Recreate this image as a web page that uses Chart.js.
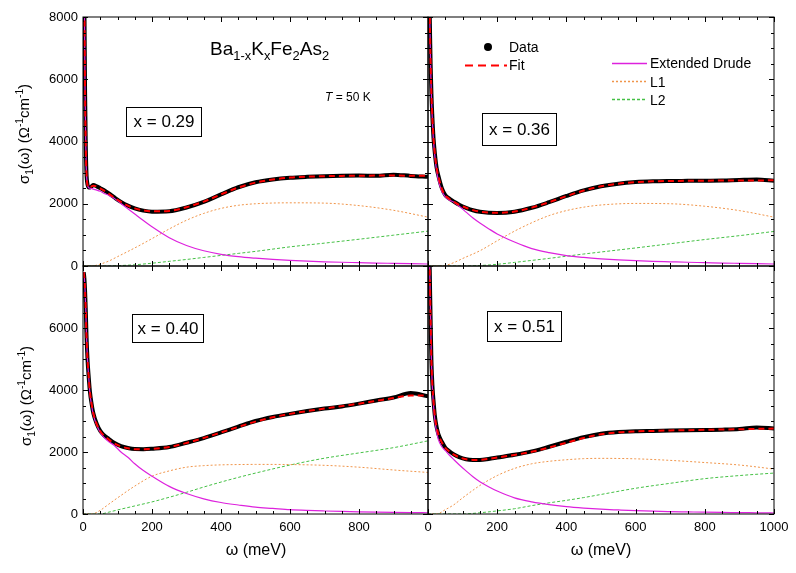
<!DOCTYPE html>
<html lang="en">
<head>
<meta charset="UTF-8">
<title>Ba1-xKxFe2As2 optical conductivity</title>
<script src="https://cdn.jsdelivr.net/npm/chart.js"></script>
<style>
  body { margin: 0; background: #fff; }
  #stage { position: relative; width: 796px; height: 573px; background: #fff; font-family: Arial, "Liberation Sans", sans-serif; color: #000; }
  #stage canvas { position: absolute; left: 0; top: 0; }
  .t { position: absolute; white-space: nowrap; line-height: 1; }
  .t sub, .t sup { font-size: 68%; line-height: 0; }
  .box { position: absolute; border: 1px solid #000; display: flex; align-items: center; justify-content: center; font-size: 17px; box-sizing: border-box; }
  .ytitle { position: absolute; white-space: nowrap; font-size: 15px; line-height: 1; transform: translate(-50%, -50%) rotate(-90deg); }
  .ytitle sub, .ytitle sup { font-size: 68%; line-height: 0; }
  .xtitle { position: absolute; white-space: nowrap; font-size: 16px; line-height: 1; transform: translate(-50%, -50%); }
  svg.leg { position: absolute; left: 0; top: 0; }
</style>
</head>
<body>
<div id="stage">
  <canvas id="pA" width="796" height="573"></canvas>
  <canvas id="pB" width="796" height="573"></canvas>
  <canvas id="pC" width="796" height="573"></canvas>
  <canvas id="pD" width="796" height="573"></canvas>

  <div class="t" style="left:210px;top:39px;font-size:19px;">Ba<sub>1-x</sub>K<sub>x</sub>Fe<sub>2</sub>As<sub>2</sub></div>
  <div class="t" style="left:325px;top:91px;font-size:12px;"><i>T</i> = 50 K</div>

  <div class="box" style="left:126px;top:107px;width:76px;height:30px;">x = 0.29</div>
  <div class="box" style="left:482px;top:113px;width:75px;height:33px;">x = 0.36</div>
  <div class="box" style="left:132px;top:314px;width:72px;height:29px;">x = 0.40</div>
  <div class="box" style="left:487px;top:311px;width:75px;height:31px;">x = 0.51</div>

  <svg class="leg" width="796" height="573">
    <circle cx="488" cy="47" r="4" fill="#000"/>
    <line x1="465" y1="65.5" x2="507" y2="65.5" style="stroke:#ff0000;stroke-width:2;stroke-dasharray:8 5"/>
    <line x1="612" y1="63.5" x2="647" y2="63.5" style="stroke:#dd22dd;stroke-width:1.4"/>
    <line x1="612" y1="81.5" x2="647" y2="81.5" style="stroke:#f0954a;stroke-width:1.3;stroke-dasharray:2 2"/>
    <line x1="612" y1="99.5" x2="647" y2="99.5" style="stroke:#45c045;stroke-width:1.3;stroke-dasharray:3 2"/>
  </svg>
  <div class="t" style="left:509px;top:40px;font-size:14px;">Data</div>
  <div class="t" style="left:509px;top:58px;font-size:14px;">Fit</div>
  <div class="t" style="left:650px;top:56px;font-size:14px;">Extended Drude</div>
  <div class="t" style="left:650px;top:75px;font-size:14px;">L1</div>
  <div class="t" style="left:650px;top:93px;font-size:14px;">L2</div>

  <div class="ytitle" style="left:23px;top:134px;">&sigma;<sub>1</sub>(&omega;) (&Omega;<sup>-1</sup>cm<sup>-1</sup>)</div>
  <div class="ytitle" style="left:25px;top:396px;">&sigma;<sub>1</sub>(&omega;) (&Omega;<sup>-1</sup>cm<sup>-1</sup>)</div>
  <div class="xtitle" style="left:256px;top:550px;">&omega; (meV)</div>
  <div class="xtitle" style="left:601px;top:550px;">&omega; (meV)</div>
</div>

<script>
// photon energy grids (meV)
const W_FINE = [2, 4, 6, 8, 10, 13, 16, 20, 25, 30, 40, 50, 60, 75, 90, 110, 130, 150, 175, 200,
                250, 300, 350, 400, 450, 500, 550, 600, 650, 700, 750, 800, 850, 900, 950, 1000];
const W_OSC = [0, 25, 50, 75, 100, 150, 200, 250, 300, 350, 400, 450, 500, 600, 700, 800, 900, 1000];

// x = 0.29
const DATA_029 = [14000, 8500, 5600, 3900, 3000, 2620, 2530, 2520, 2560, 2600, 2560, 2500, 2440, 2330, 2210, 2060, 1940, 1850, 1780, 1745,
                  1760, 1880, 2060, 2300, 2530, 2690, 2780, 2835, 2865, 2885, 2900, 2905, 2900, 2935, 2895, 2870];
const FIT_029 = [14000, 8500, 5600, 3900, 3000, 2600, 2520, 2530, 2560, 2580, 2550, 2490, 2430, 2320, 2200, 2060, 1940, 1850, 1785, 1755,
                 1770, 1890, 2070, 2300, 2520, 2680, 2780, 2840, 2870, 2885, 2895, 2900, 2905, 2905, 2900, 2895];
const DRUDE_029 = [14000, 8500, 5600, 3900, 3000, 2620, 2520, 2500, 2490, 2470, 2440, 2400, 2340, 2270, 2180, 2010, 1840, 1670, 1460, 1260,
                   910, 660, 490, 375, 300, 250, 210, 180, 155, 135, 120, 108, 95, 85, 75, 65];
const L1_029 = [0, 0, 60, 160, 300, 580, 880, 1190, 1470, 1690, 1850, 1950, 2000, 2030, 2020, 1940, 1790, 1570];
const L2_029 = [0, 0, 0, 0, 10, 40, 90, 150, 210, 275, 340, 405, 470, 615, 735, 860, 990, 1120];

// x = 0.36
const DATA_036 = [16000, 9500, 7400, 6300, 5500, 4700, 4100, 3600, 3150, 2900, 2500, 2280, 2180, 2070, 1970, 1870, 1790, 1740, 1710, 1705,
                  1745, 1870, 2050, 2250, 2430, 2560, 2645, 2695, 2720, 2730, 2735, 2740, 2745, 2765, 2780, 2740];
const FIT_036 = [16000, 9500, 7400, 6300, 5500, 4700, 4100, 3600, 3150, 2880, 2480, 2270, 2170, 2060, 1965, 1870, 1795, 1745, 1715, 1710,
                 1750, 1875, 2050, 2245, 2425, 2560, 2645, 2695, 2720, 2730, 2738, 2742, 2745, 2748, 2750, 2752];
const DRUDE_036 = [16000, 9500, 7400, 6200, 5400, 4600, 4000, 3500, 3050, 2750, 2400, 2220, 2130, 2050, 1920, 1730, 1540, 1380, 1200, 1030,
                   770, 560, 430, 335, 275, 230, 195, 170, 150, 135, 120, 108, 95, 85, 75, 65];
const L1_036 = [0, 0, 20, 110, 240, 490, 810, 1120, 1390, 1620, 1780, 1890, 1960, 2010, 2000, 1920, 1780, 1570];
const L2_036 = [0, 0, 0, 0, 0, 15, 55, 115, 180, 245, 315, 385, 450, 580, 715, 850, 975, 1110];

// x = 0.40
const DATA_040 = [7800, 7600, 7200, 6600, 5800, 5000, 4500, 3950, 3550, 3250, 2900, 2680, 2550, 2420, 2300, 2190, 2130, 2095, 2090, 2105,
                  2160, 2300, 2450, 2630, 2820, 3000, 3130, 3230, 3320, 3400, 3470, 3560, 3660, 3760, 3900, 3800];
const FIT_040 = [7800, 7600, 7200, 6600, 5800, 5000, 4500, 3950, 3550, 3250, 2890, 2670, 2540, 2400, 2280, 2180, 2120, 2090, 2090, 2100,
                 2160, 2290, 2450, 2630, 2810, 2980, 3120, 3230, 3320, 3400, 3480, 3560, 3650, 3740, 3820, 3820];
const DRUDE_040 = [7800, 7600, 7200, 6600, 5800, 5000, 4500, 3900, 3500, 3200, 2860, 2630, 2480, 2330, 2220, 2000, 1830, 1620, 1400, 1220,
                   890, 660, 490, 370, 290, 220, 180, 140, 115, 97, 82, 70, 60, 52, 45, 40];
const L1_040 = [0, 0, 120, 320, 520, 900, 1220, 1390, 1510, 1560, 1585, 1595, 1600, 1595, 1570, 1510, 1420, 1340];
const L2_040 = [0, 0, 0, 60, 130, 260, 390, 540, 700, 870, 1030, 1180, 1320, 1580, 1800, 1970, 2140, 2360];

// x = 0.51
const DATA_051 = [9500, 8600, 7200, 6000, 4900, 4100, 3650, 3150, 2800, 2580, 2330, 2140, 2040, 1920, 1835, 1765, 1745, 1745, 1775, 1820,
                  1910, 2020, 2170, 2330, 2480, 2590, 2645, 2670, 2680, 2690, 2700, 2710, 2720, 2740, 2790, 2760];
const FIT_051 = [9500, 8600, 7200, 6000, 4900, 4100, 3650, 3150, 2800, 2570, 2310, 2130, 2030, 1915, 1830, 1765, 1745, 1748, 1778, 1820,
                 1905, 2005, 2145, 2300, 2450, 2570, 2635, 2665, 2680, 2695, 2705, 2715, 2725, 2735, 2745, 2755];
const DRUDE_051 = [9500, 8600, 7200, 6000, 4900, 4000, 3500, 3000, 2650, 2400, 2170, 2050, 1920, 1750, 1590, 1390, 1200, 1040, 880, 740,
                   520, 390, 300, 235, 190, 155, 130, 107, 90, 78, 68, 58, 50, 45, 38, 32];
const L1_051 = [0, 0, 140, 300, 520, 920, 1240, 1470, 1620, 1700, 1750, 1785, 1795, 1780, 1730, 1660, 1580, 1450];
const L2_051 = [0, 0, 0, 0, 0, 40, 100, 170, 270, 360, 440, 530, 630, 830, 990, 1140, 1240, 1320];

const X_TICKS = { min: 0, max: 1000, step: 200, minor: 50 };
const Y_TICKS = { min: 0, max: 8000, step: 2000, minor: 500 };

const FONT = 'Arial, "Liberation Sans", sans-serif';

function pts(xs, ys) {
    return xs.map((x, i) => ({ x: x, y: ys[i] }));
}

// closed frame with inward ticks on all four sides
const framePlugin = {
    id: 'frame',
    afterDatasetsDraw(chart) {
        const { ctx, chartArea: a, scales } = chart;
        ctx.save();
        ctx.strokeStyle = '#000';
        ctx.lineWidth = 1;
        ctx.strokeRect(a.left, a.top, a.right - a.left, a.bottom - a.top);
        ctx.beginPath();
        for (let v = X_TICKS.min; v <= X_TICKS.max; v += X_TICKS.minor) {
            const px = Math.round(scales.x.getPixelForValue(v)) + 0.5;
            const len = v % X_TICKS.step === 0 ? 5 : 3;
            ctx.moveTo(px, a.bottom); ctx.lineTo(px, a.bottom - len);
            ctx.moveTo(px, a.top); ctx.lineTo(px, a.top + len);
        }
        for (let v = Y_TICKS.min; v <= Y_TICKS.max; v += Y_TICKS.minor) {
            const py = Math.round(scales.y.getPixelForValue(v)) + 0.5;
            const len = v % Y_TICKS.step === 0 ? 5 : 3;
            ctx.moveTo(a.left, py); ctx.lineTo(a.left + len, py);
            ctx.moveTo(a.right, py); ctx.lineTo(a.right - len, py);
        }
        ctx.stroke();
        ctx.restore();
    }
};

function makePanel(id, series, pos) {
    const datasets = [
        { label: 'Data', data: pts(W_FINE, series.data), borderColor: '#000', borderWidth: 4, order: 5 },
        { label: 'L2', data: pts(W_OSC, series.l2), borderColor: '#45c045', borderWidth: 1, borderDash: [3, 2], order: 4 },
        { label: 'L1', data: pts(W_OSC, series.l1), borderColor: '#f0954a', borderWidth: 1, borderDash: [2, 2], order: 3 },
        { label: 'Extended Drude', data: pts(W_FINE, series.drude), borderColor: '#dd22dd', borderWidth: 1.2, order: 2 },
        { label: 'Fit', data: pts(W_FINE, series.fit), borderColor: '#ff0000', borderWidth: 2, borderDash: [6, 4], order: 1 }
    ];
    datasets.forEach(d => {
        d.pointRadius = 0;
        d.fill = false;
        d.cubicInterpolationMode = 'monotone';
        d.clip = 0;
    });
    const tickFont = { family: FONT, size: 13 };
    return new Chart(document.getElementById(id), {
        type: 'line',
        data: { datasets: datasets },
        options: {
            responsive: false,
            animation: false,
            events: [],
            layout: { padding: pos.padding },
            plugins: { legend: { display: false }, tooltip: { enabled: false } },
            scales: {
                x: {
                    type: 'linear', min: X_TICKS.min, max: X_TICKS.max,
                    display: pos.showX,
                    grid: { display: false, drawTicks: false },
                    border: { display: false },
                    ticks: {
                        stepSize: X_TICKS.step, autoSkip: false, maxRotation: 0, padding: 6,
                        color: '#000', font: tickFont,
                        callback: v => (pos.hideX && v === pos.hideX) ? '' : v
                    },
                    afterFit: s => { s.height = pos.showX ? 22 : 0; }
                },
                y: {
                    type: 'linear', min: Y_TICKS.min, max: Y_TICKS.max,
                    display: pos.showY,
                    grid: { display: false, drawTicks: false },
                    border: { display: false },
                    ticks: {
                        stepSize: Y_TICKS.step, autoSkip: false, padding: 5,
                        color: '#000', font: tickFont,
                        callback: v => (pos.hideY && v === pos.hideY) ? '' : v
                    },
                    afterFit: s => { s.width = pos.showY ? 50 : 0; }
                }
            }
        },
        plugins: [framePlugin]
    });
}

makePanel('pA', { data: DATA_029, fit: FIT_029, drude: DRUDE_029, l1: L1_029, l2: L2_029 },
    { showX: false, showY: true, padding: { left: 33, top: 17, right: 368, bottom: 307 } });
makePanel('pB', { data: DATA_036, fit: FIT_036, drude: DRUDE_036, l1: L1_036, l2: L2_036 },
    { showX: false, showY: false, padding: { left: 428, top: 17, right: 22, bottom: 307 } });
makePanel('pC', { data: DATA_040, fit: FIT_040, drude: DRUDE_040, l1: L1_040, l2: L2_040 },
    { showX: true, showY: true, hideX: 1000, hideY: 8000, padding: { left: 33, top: 266, right: 368, bottom: 37 } });
makePanel('pD', { data: DATA_051, fit: FIT_051, drude: DRUDE_051, l1: L1_051, l2: L2_051 },
    { showX: true, showY: false, padding: { left: 428, top: 266, right: 22, bottom: 37 } });
</script>
</body>
</html>
